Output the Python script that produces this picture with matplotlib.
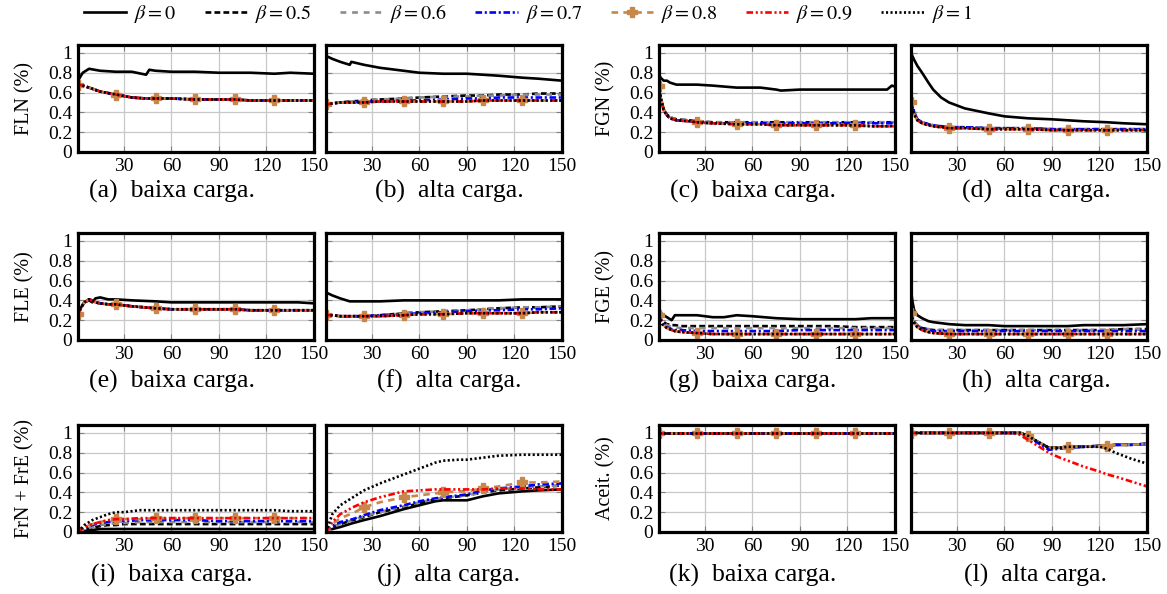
import matplotlib
matplotlib.use("Agg")
import matplotlib.pyplot as plt

plt.rcParams["font.family"] = ["Liberation Serif", "DejaVu Serif"]
plt.rcParams["mathtext.fontset"] = "stix"

BETAS = [0, 0.5, 0.6, 0.7, 0.8, 0.9, 1]
MARK_X = [1, 25, 50, 75, 100, 125]
X_TICKS = [30, 60, 90, 120, 150]
Y_TICKS = [0, 0.2, 0.4, 0.6, 0.8, 1]

# (a) FLN, baixa carga
x_a = [1, 4, 8, 15, 25, 35, 44, 46, 50, 60, 75, 90, 100, 110, 125, 135, 150]
fln_baixa_b0 = [0.72, 0.80, 0.84, 0.82, 0.81, 0.81, 0.78, 0.83, 0.82, 0.81, 0.81, 0.80, 0.80, 0.80, 0.79, 0.80, 0.79]
fln_baixa_rest = [0.68, 0.67, 0.65, 0.61, 0.58, 0.55, 0.54, 0.54, 0.54, 0.54, 0.53, 0.53, 0.53, 0.52, 0.52, 0.52, 0.52]

# (b) FLN, alta carga
x_b = [1, 5, 10, 16, 17, 25, 35, 50, 60, 75, 90, 100, 110, 125, 135, 150]
fln_alta_b0 = [0.97, 0.94, 0.91, 0.88, 0.91, 0.88, 0.85, 0.82, 0.80, 0.79, 0.79, 0.78, 0.77, 0.75, 0.74, 0.72]
fln_alta_b05 = [0.48, 0.49, 0.50, 0.51, 0.51, 0.52, 0.53, 0.54, 0.55, 0.56, 0.57, 0.57, 0.58, 0.58, 0.59, 0.59]
fln_alta_b06 = [0.48, 0.49, 0.50, 0.51, 0.51, 0.52, 0.53, 0.54, 0.55, 0.56, 0.56, 0.57, 0.57, 0.58, 0.58, 0.58]
fln_alta_b07 = [0.48, 0.49, 0.50, 0.50, 0.50, 0.51, 0.51, 0.52, 0.52, 0.53, 0.54, 0.54, 0.55, 0.55, 0.55, 0.55]
fln_alta_rest = [0.48, 0.49, 0.50, 0.50, 0.50, 0.50, 0.51, 0.51, 0.51, 0.51, 0.51, 0.52, 0.52, 0.52, 0.52, 0.52]

# (c) FGN, baixa carga
x_c = [1, 2, 4, 6, 8, 12, 20, 25, 35, 50, 65, 75, 78, 90, 100, 110, 125, 135, 145, 148, 150]
fgn_baixa_b0 = [0.78, 0.75, 0.72, 0.72, 0.70, 0.68, 0.68, 0.68, 0.67, 0.65, 0.65, 0.63, 0.62, 0.63, 0.63, 0.63, 0.63, 0.63, 0.63, 0.67, 0.66]
fgn_baixa_b05 = [0.67, 0.55, 0.43, 0.38, 0.35, 0.33, 0.32, 0.31, 0.30, 0.30, 0.30, 0.30, 0.30, 0.30, 0.30, 0.30, 0.30, 0.30, 0.30, 0.30, 0.30]
fgn_baixa_b07 = [0.67, 0.55, 0.43, 0.37, 0.34, 0.32, 0.31, 0.30, 0.29, 0.29, 0.29, 0.29, 0.29, 0.29, 0.29, 0.29, 0.29, 0.29, 0.29, 0.29, 0.29]
fgn_baixa_rest = [0.67, 0.55, 0.42, 0.37, 0.34, 0.32, 0.31, 0.30, 0.29, 0.28, 0.28, 0.27, 0.27, 0.27, 0.27, 0.27, 0.27, 0.26, 0.26, 0.26, 0.26]

# (d) FGN, alta carga
x_d = [1, 3, 5, 8, 12, 15, 20, 25, 35, 50, 60, 75, 90, 100, 110, 125, 135, 150]
fgn_alta_b0 = [1.00, 0.93, 0.87, 0.80, 0.70, 0.63, 0.55, 0.50, 0.44, 0.39, 0.36, 0.34, 0.33, 0.32, 0.31, 0.30, 0.29, 0.28]
fgn_alta_b05 = [0.52, 0.40, 0.33, 0.30, 0.28, 0.27, 0.26, 0.25, 0.25, 0.24, 0.24, 0.24, 0.23, 0.23, 0.23, 0.23, 0.23, 0.23]
fgn_alta_rest = [0.50, 0.38, 0.32, 0.29, 0.27, 0.26, 0.25, 0.24, 0.24, 0.23, 0.23, 0.23, 0.22, 0.22, 0.22, 0.22, 0.22, 0.22]

# (e) FLE, baixa carga
x_e = [1, 3, 5, 8, 10, 12, 15, 20, 25, 35, 50, 60, 75, 90, 100, 110, 125, 140, 150]
fle_baixa_b0 = [0.26, 0.33, 0.38, 0.40, 0.38, 0.42, 0.43, 0.41, 0.41, 0.40, 0.39, 0.38, 0.38, 0.38, 0.38, 0.38, 0.38, 0.38, 0.37]
fle_baixa_rest = [0.26, 0.33, 0.38, 0.41, 0.40, 0.38, 0.37, 0.36, 0.36, 0.34, 0.32, 0.31, 0.31, 0.31, 0.31, 0.30, 0.30, 0.30, 0.30]

# (f) FLE, alta carga
x_f = [1, 5, 10, 16, 25, 35, 50, 60, 75, 90, 100, 110, 125, 135, 150]
fle_alta_b0 = [0.48, 0.45, 0.42, 0.39, 0.39, 0.39, 0.40, 0.40, 0.40, 0.40, 0.40, 0.40, 0.41, 0.41, 0.41]
fle_alta_b05 = [0.25, 0.25, 0.24, 0.24, 0.24, 0.25, 0.27, 0.28, 0.29, 0.30, 0.31, 0.32, 0.33, 0.33, 0.34]
fle_alta_b07 = [0.25, 0.25, 0.24, 0.24, 0.24, 0.25, 0.26, 0.27, 0.28, 0.29, 0.30, 0.30, 0.31, 0.31, 0.32]
fle_alta_rest = [0.25, 0.25, 0.24, 0.24, 0.24, 0.24, 0.25, 0.26, 0.26, 0.27, 0.27, 0.27, 0.27, 0.28, 0.28]

# (g) FGE, baixa carga
x_g = [1, 3, 6, 9, 11, 15, 25, 35, 42, 50, 60, 75, 90, 100, 110, 125, 135, 150]
fge_baixa_b0 = [0.30, 0.26, 0.23, 0.20, 0.25, 0.25, 0.25, 0.23, 0.23, 0.25, 0.24, 0.22, 0.21, 0.21, 0.21, 0.21, 0.22, 0.22]
fge_baixa_b05 = [0.25, 0.19, 0.16, 0.15, 0.15, 0.14, 0.14, 0.14, 0.14, 0.14, 0.14, 0.14, 0.14, 0.14, 0.14, 0.13, 0.13, 0.13]
fge_baixa_b06 = [0.25, 0.18, 0.15, 0.13, 0.13, 0.12, 0.12, 0.12, 0.12, 0.12, 0.12, 0.12, 0.12, 0.12, 0.12, 0.12, 0.12, 0.12]
fge_baixa_b07 = [0.25, 0.17, 0.13, 0.11, 0.10, 0.10, 0.09, 0.09, 0.09, 0.09, 0.09, 0.09, 0.10, 0.10, 0.10, 0.10, 0.10, 0.10]
fge_baixa_rest = [0.25, 0.16, 0.12, 0.10, 0.09, 0.08, 0.07, 0.06, 0.06, 0.06, 0.06, 0.06, 0.06, 0.06, 0.06, 0.06, 0.06, 0.06]

# (h) FGE, alta carga
x_h = [1, 2, 3, 5, 8, 12, 15, 25, 35, 50, 60, 75, 90, 100, 110, 125, 135, 150]
fge_alta_b0 = [0.50, 0.38, 0.30, 0.25, 0.22, 0.19, 0.18, 0.16, 0.15, 0.15, 0.14, 0.14, 0.14, 0.14, 0.15, 0.15, 0.15, 0.16]
fge_alta_b05 = [0.27, 0.22, 0.18, 0.15, 0.12, 0.11, 0.10, 0.10, 0.10, 0.10, 0.10, 0.10, 0.10, 0.10, 0.10, 0.10, 0.11, 0.11]
fge_alta_b07 = [0.27, 0.22, 0.18, 0.14, 0.11, 0.10, 0.09, 0.09, 0.09, 0.09, 0.09, 0.09, 0.09, 0.09, 0.09, 0.09, 0.09, 0.09]
fge_alta_rest = [0.27, 0.21, 0.17, 0.13, 0.10, 0.08, 0.07, 0.06, 0.06, 0.06, 0.06, 0.06, 0.06, 0.06, 0.06, 0.06, 0.06, 0.06]

# (i) FrN + FrE, baixa carga
x_i = [1, 5, 10, 15, 20, 25, 30, 40, 50, 60, 75, 90, 100, 110, 125, 135, 150]
fr_baixa_b0 = [0.00, 0.01, 0.02, 0.03, 0.03, 0.03, 0.03, 0.03, 0.03, 0.03, 0.03, 0.03, 0.03, 0.03, 0.03, 0.03, 0.03]
fr_baixa_b05 = [0.00, 0.02, 0.04, 0.06, 0.07, 0.07, 0.08, 0.08, 0.08, 0.08, 0.08, 0.08, 0.08, 0.08, 0.08, 0.08, 0.08]
fr_baixa_b06 = [0.00, 0.03, 0.05, 0.07, 0.08, 0.09, 0.09, 0.10, 0.10, 0.10, 0.10, 0.10, 0.10, 0.10, 0.10, 0.10, 0.10]
fr_baixa_b07 = [0.00, 0.04, 0.07, 0.09, 0.10, 0.11, 0.11, 0.12, 0.12, 0.12, 0.12, 0.11, 0.11, 0.11, 0.11, 0.11, 0.11]
fr_baixa_b08 = [0.00, 0.05, 0.08, 0.10, 0.12, 0.13, 0.13, 0.13, 0.14, 0.14, 0.14, 0.14, 0.14, 0.14, 0.14, 0.14, 0.14]
fr_baixa_b09 = [0.00, 0.05, 0.08, 0.10, 0.12, 0.13, 0.13, 0.14, 0.14, 0.14, 0.14, 0.14, 0.14, 0.14, 0.14, 0.14, 0.14]
fr_baixa_b1 = [0.00, 0.07, 0.12, 0.15, 0.18, 0.20, 0.20, 0.22, 0.22, 0.22, 0.22, 0.22, 0.22, 0.22, 0.22, 0.21, 0.21]

# (j) FrN + FrE, alta carga
x_j = [1, 5, 10, 18, 25, 35, 50, 60, 70, 75, 85, 90, 100, 110, 125, 135, 150]
fr_alta_b0 = [0.00, 0.03, 0.05, 0.09, 0.12, 0.16, 0.23, 0.27, 0.31, 0.32, 0.32, 0.32, 0.36, 0.39, 0.41, 0.42, 0.43]
fr_alta_b05 = [0.00, 0.05, 0.08, 0.12, 0.15, 0.20, 0.25, 0.29, 0.33, 0.34, 0.36, 0.37, 0.40, 0.42, 0.44, 0.45, 0.47]
fr_alta_b06 = [0.00, 0.05, 0.08, 0.12, 0.16, 0.20, 0.26, 0.30, 0.33, 0.35, 0.36, 0.37, 0.40, 0.43, 0.45, 0.46, 0.47]
fr_alta_b07 = [0.00, 0.06, 0.10, 0.13, 0.17, 0.22, 0.27, 0.31, 0.34, 0.35, 0.37, 0.38, 0.42, 0.44, 0.46, 0.48, 0.49]
fr_alta_b08 = [0.00, 0.08, 0.14, 0.19, 0.25, 0.30, 0.35, 0.37, 0.39, 0.40, 0.41, 0.41, 0.44, 0.46, 0.50, 0.50, 0.51]
fr_alta_b09 = [0.00, 0.10, 0.18, 0.25, 0.30, 0.35, 0.41, 0.42, 0.43, 0.43, 0.43, 0.43, 0.43, 0.44, 0.44, 0.43, 0.43]
fr_alta_b1 = [0.00, 0.18, 0.27, 0.35, 0.42, 0.49, 0.58, 0.64, 0.70, 0.72, 0.73, 0.73, 0.75, 0.77, 0.78, 0.78, 0.78]

# (k) Aceit., baixa carga
x_k = [1, 25, 50, 75, 100, 125, 150]
aceit_baixa = [1.0, 1.0, 1.0, 1.0, 1.0, 1.0, 1.0]

# (l) Aceit., alta carga
x_l = [1, 25, 50, 65, 70, 75, 80, 88, 95, 100, 110, 120, 125, 130, 140, 150]
aceit_alta_rest = [1.0, 1.0, 1.0, 1.0, 1.0, 0.97, 0.92, 0.85, 0.85, 0.86, 0.86, 0.87, 0.87, 0.88, 0.88, 0.89]
aceit_alta_b07 = [1.0, 1.0, 1.0, 1.0, 1.0, 0.97, 0.91, 0.83, 0.84, 0.85, 0.86, 0.87, 0.87, 0.88, 0.88, 0.89]
aceit_alta_b09 = [1.0, 1.0, 1.0, 1.0, 0.98, 0.93, 0.88, 0.80, 0.75, 0.72, 0.66, 0.61, 0.58, 0.56, 0.51, 0.46]
aceit_alta_b1 = [1.0, 1.0, 1.0, 1.0, 1.0, 0.97, 0.92, 0.85, 0.85, 0.86, 0.86, 0.86, 0.84, 0.80, 0.74, 0.69]

panels = [
    # row, col, x, {beta: y}, ylabel, caption
    (0, 0, x_a, dict.fromkeys(BETAS[1:], fln_baixa_rest) | {0: fln_baixa_b0}, "FLN (%)", "(a)  baixa carga."),
    (0, 1, x_b, {0: fln_alta_b0, 0.5: fln_alta_b05, 0.6: fln_alta_b06, 0.7: fln_alta_b07,
                 0.8: fln_alta_rest, 0.9: fln_alta_rest, 1: fln_alta_rest}, None, "(b)  alta carga."),
    (0, 2, x_c, {0: fgn_baixa_b0, 0.5: fgn_baixa_b05, 0.6: fgn_baixa_b05, 0.7: fgn_baixa_b07,
                 0.8: fgn_baixa_rest, 0.9: fgn_baixa_rest, 1: fgn_baixa_rest}, "FGN (%)", "(c)  baixa carga."),
    (0, 3, x_d, {0: fgn_alta_b0, 0.5: fgn_alta_b05, 0.6: fgn_alta_b05, 0.7: fgn_alta_b05,
                 0.8: fgn_alta_rest, 0.9: fgn_alta_rest, 1: fgn_alta_rest}, None, "(d)  alta carga."),
    (1, 0, x_e, dict.fromkeys(BETAS[1:], fle_baixa_rest) | {0: fle_baixa_b0}, "FLE (%)", "(e)  baixa carga."),
    (1, 1, x_f, {0: fle_alta_b0, 0.5: fle_alta_b05, 0.6: fle_alta_b05, 0.7: fle_alta_b07,
                 0.8: fle_alta_rest, 0.9: fle_alta_rest, 1: fle_alta_rest}, None, "(f)  alta carga."),
    (1, 2, x_g, {0: fge_baixa_b0, 0.5: fge_baixa_b05, 0.6: fge_baixa_b06, 0.7: fge_baixa_b07,
                 0.8: fge_baixa_rest, 0.9: fge_baixa_rest, 1: fge_baixa_rest}, "FGE (%)", "(g)  baixa carga."),
    (1, 3, x_h, {0: fge_alta_b0, 0.5: fge_alta_b05, 0.6: fge_alta_b05, 0.7: fge_alta_b07,
                 0.8: fge_alta_rest, 0.9: fge_alta_rest, 1: fge_alta_rest}, None, "(h)  alta carga."),
    (2, 0, x_i, {0: fr_baixa_b0, 0.5: fr_baixa_b05, 0.6: fr_baixa_b06, 0.7: fr_baixa_b07,
                 0.8: fr_baixa_b08, 0.9: fr_baixa_b09, 1: fr_baixa_b1}, "FrN + FrE (%)", "(i)  baixa carga."),
    (2, 1, x_j, {0: fr_alta_b0, 0.5: fr_alta_b05, 0.6: fr_alta_b06, 0.7: fr_alta_b07,
                 0.8: fr_alta_b08, 0.9: fr_alta_b09, 1: fr_alta_b1}, None, "(j)  alta carga."),
    (2, 2, x_k, dict.fromkeys(BETAS, aceit_baixa), "Aceit. (%)", "(k)  baixa carga."),
    (2, 3, x_l, {0: aceit_alta_rest, 0.5: aceit_alta_rest, 0.6: aceit_alta_rest, 0.7: aceit_alta_b07,
                 0.8: aceit_alta_rest, 0.9: aceit_alta_b09, 1: aceit_alta_b1}, None, "(l)  alta carga."),
]

styles = {
    0: dict(color="black", linestyle="-"),
    0.5: dict(color="black", linestyle=(0, (2.2, 1.2))),
    0.6: dict(color="#8c8c8c", linestyle=(0, (2.2, 2.2))),
    0.7: dict(color="#0000ff", linestyle=(0, (2.5, 1, 0.8, 1))),
    0.8: dict(color="#c8874a", linestyle=(0, (2.5, 2)), marker="P", markersize=6.5),
    0.9: dict(color="#ff0000", linestyle=(0, (2.5, 1, 0.8, 1, 0.8, 1))),
    1: dict(color="black", linestyle=(0, (0.8, 0.9))),
}

W, H = 1167, 594
col_left = [78, 326, 659, 911]
row_top = [45, 233, 425]
ax_w, ax_h = 236, 107
caption_x = [172, 449, 753, 1036]
caption_y = [191, 381, 575]

fig = plt.figure(figsize=(W / 100, H / 100), dpi=100)

handles = []
for row, col, x, series, ylabel, caption in panels:
    ax = fig.add_axes([col_left[col] / W, 1 - (row_top[row] + ax_h) / H, ax_w / W, ax_h / H])
    marks = [i for i, v in enumerate(x) if v in MARK_X]
    lines = []
    for b in BETAS:
        st = dict(styles[b])
        if "marker" in st:
            st["markevery"] = marks
        (ln,) = ax.plot(x, series[b], linewidth=1.9, label=rf"$\beta = {b}$", **st)
        lines.append(ln)
    if not handles:
        handles = lines
    ax.set_xlim(1, 150)
    ax.set_ylim(0, 1.08)
    ax.set_xticks(X_TICKS)
    ax.set_yticks(Y_TICKS)
    ax.set_yticklabels(["0", "0.2", "0.4", "0.6", "0.8", "1"])
    ax.grid(True, color="#c8c8c8", linewidth=0.9)
    ax.set_axisbelow(True)
    ax.tick_params(direction="in", length=4, width=0.8, color="#808080",
                   top=True, right=True, labelsize=14, pad=4)
    for sp in ax.spines.values():
        sp.set_linewidth(2.3)
    if ylabel:
        ax.set_ylabel(ylabel, fontsize=14.5, labelpad=10)
    else:
        ax.tick_params(labelleft=False)
    fig.text(caption_x[col] / W, 1 - caption_y[row] / H, caption,
             ha="center", va="center", fontsize=18.5)

fig.legend(handles=handles, loc="center", bbox_to_anchor=(528 / W, 1 - 14 / H), ncol=7,
           frameon=False, fontsize=14.5, handlelength=2.1, handletextpad=0.4,
           columnspacing=1.4, numpoints=1)

fig.savefig("out.png", dpi=100)
